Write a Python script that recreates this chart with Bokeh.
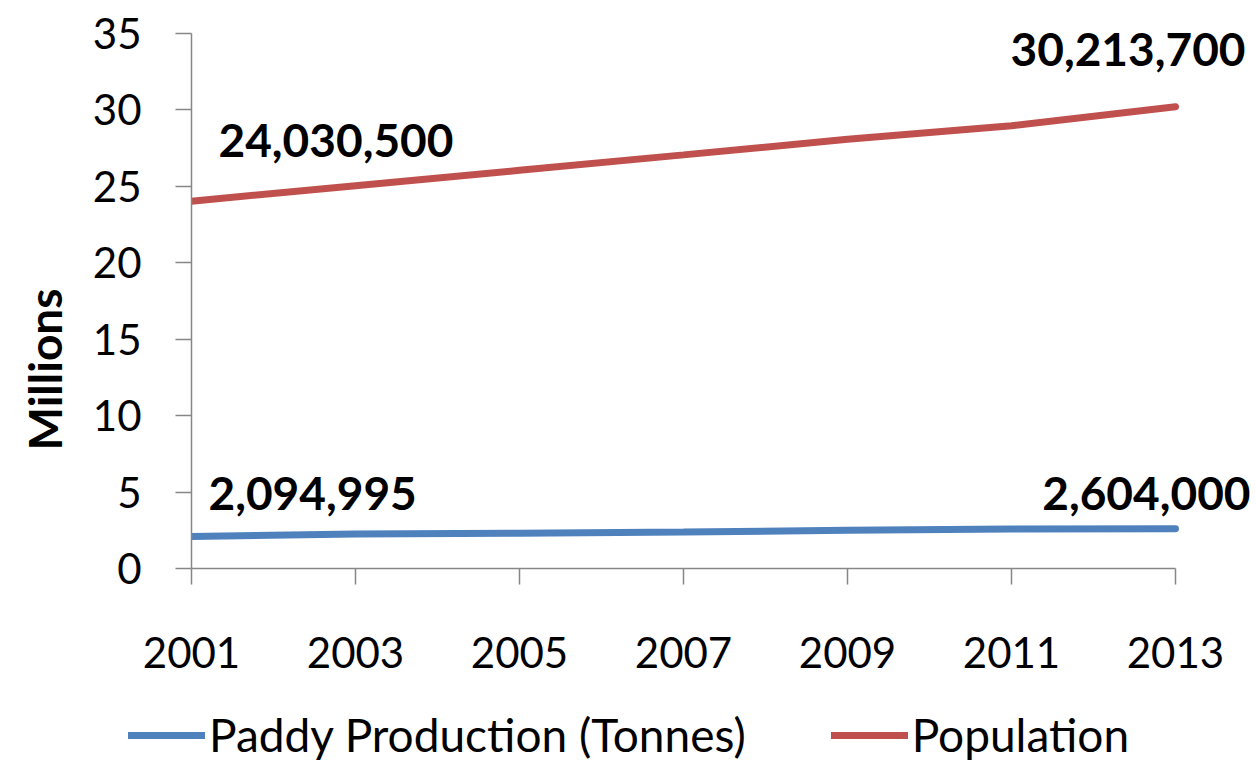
from bokeh.plotting import figure
from bokeh.layouts import column
from bokeh.models import Legend, LegendItem, FixedTicker, ColumnDataSource, Title
from bokeh.core.properties import value
from bokeh.embed import file_html
from bokeh.resources import INLINE

# Malaysia: paddy output and population, every second year
years = [2001, 2003, 2005, 2007, 2009, 2011, 2013]
paddy_tonnes = [2094995, 2260000, 2310000, 2380000, 2510000, 2580000, 2604000]
population = [24030500, 25040000, 26050000, 27060000, 28080000, 28960000, 30213700]

y_ticks = [0, 5, 10, 15, 20, 25, 30, 35]

FONT = "Lato"
BLUE = "#4F81BD"
RED = "#C0504D"
AXIS_GREY = "#868686"
LINE_W = 7

paddy_m = [v / 1e6 for v in paddy_tonnes]
pop_m = [v / 1e6 for v in population]

# the frame runs to the right and top edges so the value labels are not cut;
# axis bounds keep the drawn axes to 2001-2013 and 0-35
p = figure(width=1256, height=700, output_backend="svg", toolbar_location=None,
           x_range=(2001, 2013.988), y_range=(0, 37.159),
           min_border_left=191, min_border_right=0,
           min_border_top=0, min_border_bottom=132)
p.frame_align = False
p.outline_line_color = None
p.xgrid.visible = False
p.ygrid.visible = False

p.line(years, paddy_m, line_color=BLUE, line_width=LINE_W, line_cap="round")
p.line(years, pop_m, line_color=RED, line_width=LINE_W, line_cap="round")

# first and last point of each series carry a value label
def end_labels(xs, vals, scaled, offsets):
    src = ColumnDataSource(dict(
        x=[xs[0], xs[-1]], y=[scaled[0], scaled[-1]],
        t=[f"{vals[0]:,}", f"{vals[-1]:,}"],
        xo=[offsets[0][0], offsets[1][0]], yo=[offsets[0][1], offsets[1][1]],
        al=["left", "right"]))
    p.text("x", "y", text="t", source=src, x_offset="xo", y_offset="yo",
           text_align="al", text_baseline="middle",
           text_font=value(FONT), text_font_style="bold",
           text_font_size="46px", text_color="#000000")

end_labels(years, population, pop_m, [(27, -61), (70, -57)])
end_labels(years, paddy_tonnes, paddy_m, [(17, -43), (75, -35)])

for ax in (p.xaxis[0], p.yaxis[0]):
    ax.axis_line_color = AXIS_GREY
    ax.axis_line_width = 1.5
    ax.major_tick_line_color = AXIS_GREY
    ax.major_tick_line_width = 1.5
    ax.minor_tick_line_color = None
    ax.major_tick_in = 0
    ax.major_tick_out = 16
    ax.major_label_text_font = FONT
    ax.major_label_text_font_size = "42px"
    ax.major_label_text_color = "#000000"

p.xaxis.ticker = FixedTicker(ticks=years)
p.xaxis.bounds = (2001, 2013)
p.xaxis.major_label_standoff = 52
p.yaxis.ticker = FixedTicker(ticks=y_ticks)
p.yaxis.bounds = (0, 35)
p.yaxis.major_label_standoff = 34

# vertical axis title, set low as in the original layout
p.add_layout(Title(text="Millions", align="left", offset=118, standoff=32,
                   vertical_align="top",
                   text_font=FONT, text_font_style="bold",
                   text_font_size="46px", text_color="#000000"), "left")

# legend strip under the chart; its lines lie outside the strip's view
lg = figure(width=1256, height=62, output_backend="svg", toolbar_location=None,
            x_range=(0, 1), y_range=(0, 1), x_axis_type=None, y_axis_type=None,
            min_border=0)
lg.frame_align = False
lg.outline_line_color = None
lg.xgrid.visible = False
lg.ygrid.visible = False
lg_paddy = lg.line(years, paddy_m, line_color=BLUE, line_width=LINE_W, line_cap="round")
lg_pop = lg.line(years, pop_m, line_color=RED, line_width=LINE_W, line_cap="round")

legend = Legend(items=[LegendItem(label="Paddy Production (Tonnes)", renderers=[lg_paddy]),
                       LegendItem(label="Population", renderers=[lg_pop])],
                orientation="horizontal", location=(128, 0),
                glyph_width=77, glyph_height=40, label_standoff=4, spacing=85,
                padding=0, margin=0, border_line_color=None,
                background_fill_alpha=0,
                label_text_font=FONT, label_text_font_size="46px",
                label_text_color="#000000")
lg.add_layout(legend, "center")

open("out.html", "w").write(file_html(column(p, lg, spacing=0), INLINE))
